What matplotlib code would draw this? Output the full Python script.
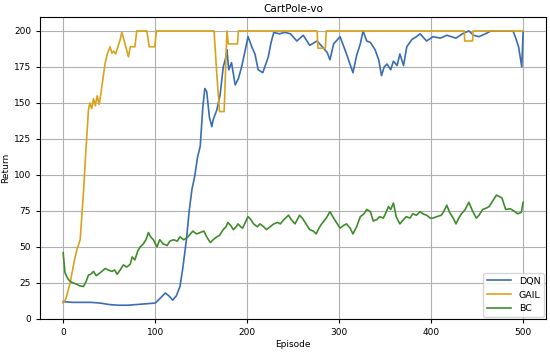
import matplotlib
matplotlib.use("Agg")
import matplotlib.pyplot as plt

# ---------------- data ----------------
dqn_ep = [0, 10, 20, 30, 40, 50, 60, 70, 80, 90, 100, 105, 111, 115, 119, 123, 127, 130, 134, 137,
          140, 143, 146, 149, 151.8, 154, 156, 159, 161.6, 163, 164, 167, 170.6, 174, 177, 178, 180,
          183, 187, 190.5, 194, 198, 201, 205, 208.5, 212, 217, 223, 226, 229, 235, 241, 247, 254,
          261, 268, 276, 283, 287, 290, 294, 301, 308, 315, 319, 323, 326, 330, 334, 339, 343, 346,
          349, 352, 356, 359, 363, 366, 370, 373.5, 379, 384, 388, 395, 402, 410, 417, 427, 434, 441,
          446, 452, 459, 465, 470, 475, 480, 485, 489, 492, 495, 498.5, 500]
dqn_val = [12, 11.5, 11.5, 11.5, 11, 10, 9.5, 9.5, 10, 10.5, 11, 14, 18, 16, 13, 16, 22.5, 35, 55, 75,
           90, 99, 112, 120, 147, 160, 158, 140, 133.5, 138, 140, 145, 155.5, 175, 182, 187, 173,
           178, 162.5, 167, 175, 187, 196, 189, 184, 173, 171, 182, 192, 199, 198, 199, 198, 193,
           197, 190, 193, 188, 185, 180, 191, 196, 184, 171, 183, 191, 200, 193, 192, 187, 180, 169,
           175, 177, 173, 179, 176, 184, 176, 189, 194, 196, 198, 193, 196, 195, 197, 195, 198, 200,
           197, 196, 198, 200, 200, 200, 200, 200, 200, 195, 189, 175, 200]

gail_ep = [0, 3, 7.6, 12, 15, 18.5, 22, 25, 27.5, 29, 31, 33, 35, 37, 39, 40, 42, 45.6, 48, 51, 53,
           55, 57, 59, 62, 63.8, 66, 71, 73, 78, 80, 91, 93.5, 99.6, 101.4, 164, 167, 170, 175, 178,
           179.5, 189.5, 190.5, 276, 277, 285, 286, 436, 436.5, 445, 445.5, 500]
gail_val = [11, 14, 25, 40, 48, 55, 87, 120, 145, 150, 146, 153, 148, 155, 149, 152, 161, 177.5, 184,
            189, 184.5, 186, 184, 188, 194, 199, 194, 182, 189, 189, 200, 200, 189, 189, 200, 200,
            170, 144, 144, 200, 191, 191, 200, 200, 188, 188, 200, 200, 193, 193, 200, 200]

bc_ep = [0, 2, 5, 7.6, 11, 15, 18, 22, 25, 27.5, 30, 33, 36, 38, 42, 45.6, 49, 53, 56, 58.7, 62, 65.5,
         69, 73, 75, 78, 81, 83.7, 87, 90, 92.7, 95, 98, 102, 105, 109, 113, 116, 120, 124, 127, 131,
         134, 137, 141, 145, 149, 153, 156, 160, 163, 167, 170, 174, 177, 179, 182, 185, 188, 190,
         193, 195, 198, 201, 204, 207, 211, 214, 218, 221, 225, 229, 233, 236, 240, 245, 248, 252,
         257, 260, 264, 268, 272, 275, 278, 281, 286, 290, 294, 298, 301, 305, 308, 312, 315, 319,
         323, 327, 330, 334, 337, 341, 344, 348, 351, 353.6, 356, 359, 362, 366, 370, 373, 377, 380,
         384, 388, 391, 395, 399, 402, 406, 411, 414, 417, 420, 424, 427, 430, 433, 437, 441, 445,
         449, 452, 456, 460, 463, 467, 471, 474, 477, 481, 486, 490, 494, 498, 500]
bc_val = [46, 32, 28, 26, 25, 24, 23, 22.5, 26, 30.5, 31, 33, 30, 31, 33, 35, 34, 33, 34, 31, 34, 37.5,
          36, 38, 43, 41, 47, 50, 52, 55, 60, 57, 55, 50, 55, 52, 51, 54, 55, 54, 57, 55,
          56, 58, 61, 59, 60, 61, 57, 53, 55, 57, 58, 62, 64, 67, 65, 62, 64, 66,
          64, 63, 67, 71, 69, 66, 64, 66, 64, 62, 64, 66, 67, 66, 69, 72, 69, 66,
          72, 70, 66, 62, 61, 59, 63, 66, 70, 74.5, 70, 66, 63, 65, 66, 63, 59, 64,
          71, 73, 76, 74.5, 68, 69, 71, 70, 74, 78, 76, 80.5, 71, 66, 69, 71, 70, 73,
          72, 74.5, 73, 72, 70, 70, 71, 72, 75, 79, 74, 70, 66, 70, 73, 76, 81, 75,
          70, 72, 76, 77, 78, 82, 86, 85, 84, 76, 76.5, 75, 73, 74, 81]

series_names = ["DQN", "GAIL", "BC"]
series_colors = ["#3a6db2", "#d9a31c", "#3f8c2c"]

# ---------------- plot ----------------
fig, ax = plt.subplots(figsize=(5.5, 3.52), dpi=100)
fig.subplots_adjust(left=0.073, right=0.993, top=0.951, bottom=0.094)

for (xs, ys), name, col in zip([(dqn_ep, dqn_val), (gail_ep, gail_val), (bc_ep, bc_val)],
                               series_names, series_colors):
    ax.plot(xs, ys, color=col, lw=1.2, label=name)

ax.set_xlim(-25, 525)
ax.set_ylim(0, 209.5)
ax.set_xticks([0, 100, 200, 300, 400, 500])
ax.set_yticks([0, 25, 50, 75, 100, 125, 150, 175, 200])
ax.grid(True, color="#b0b0b0", lw=0.8)
ax.tick_params(labelsize=6.5, length=3, width=0.8)
ax.set_xlabel("Episode", fontsize=6.5, labelpad=2)
ax.set_ylabel("Return", fontsize=6.5, labelpad=3)
ax.set_title("CartPole-vo", fontsize=7.5, pad=4)
ax.legend(loc="lower right", fontsize=6.8, borderaxespad=0.2, handlelength=2.6)

fig.savefig("out.png", dpi=100)
